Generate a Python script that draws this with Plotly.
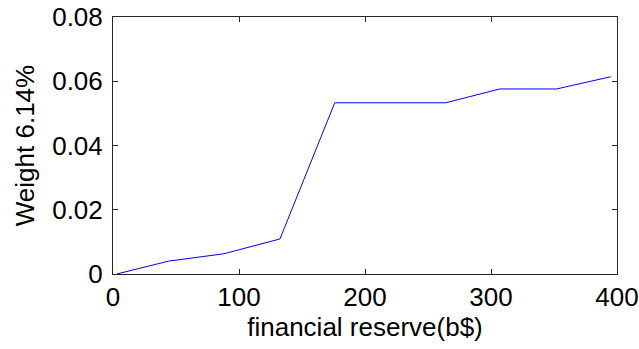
import plotly.graph_objects as go

# Financial reserve (b$) and the weight it carries
reserve = [3, 44, 88, 132.5, 176, 220, 264, 307, 352, 395]
weight = [0.0, 0.0040, 0.0063, 0.0109, 0.0533, 0.0533, 0.0533, 0.0576, 0.0576, 0.0614]

x_ticks = [0, 100, 200, 300, 400]
y_ticks = [0, 0.02, 0.04, 0.06, 0.08]
x_tick_labels = ["0", "100", "200", "300", "400"]
y_tick_labels = ["0", "0.02", "0.04", "0.06", "0.08"]

x_title = "financial reserve(b$)"
y_title = "Weight 6.14%"

font_family = "Liberation Sans, Arial, Helvetica, sans-serif"
font_size = 26

fig = go.Figure(
    go.Scatter(
        x=reserve,
        y=weight,
        mode="lines",
        line=dict(color="#0000ff", width=1),
        hoverinfo="skip",
    )
)

axis_common = dict(
    automargin=False,
    showgrid=False,
    zeroline=False,
    showline=True,
    linecolor="#262626",
    linewidth=1,
    mirror="ticks",
    ticks="inside",
    ticklen=5,
    tickwidth=1,
    tickcolor="#262626",
    tickfont=dict(family=font_family, size=font_size, color="#000000"),
)

fig.update_layout(
    width=639,
    height=349,
    margin=dict(l=113, r=22, t=17, b=75),
    paper_bgcolor="#ffffff",
    plot_bgcolor="#ffffff",
    showlegend=False,
    font=dict(family=font_family, size=font_size, color="#000000"),
    xaxis=dict(
        range=[0, 400],
        tickvals=x_ticks,
        ticktext=x_tick_labels,
        ticklabelstandoff=0,
        title=dict(text=x_title, standoff=4, font=dict(family=font_family, size=font_size)),
        **axis_common,
    ),
    yaxis=dict(
        range=[0, 0.08],
        tickvals=y_ticks,
        ticktext=y_tick_labels,
        ticklabelstandoff=4,
        title=dict(text=y_title, standoff=10, font=dict(family=font_family, size=font_size)),
        **axis_common,
    ),
)

fig.write_html("out.html")
